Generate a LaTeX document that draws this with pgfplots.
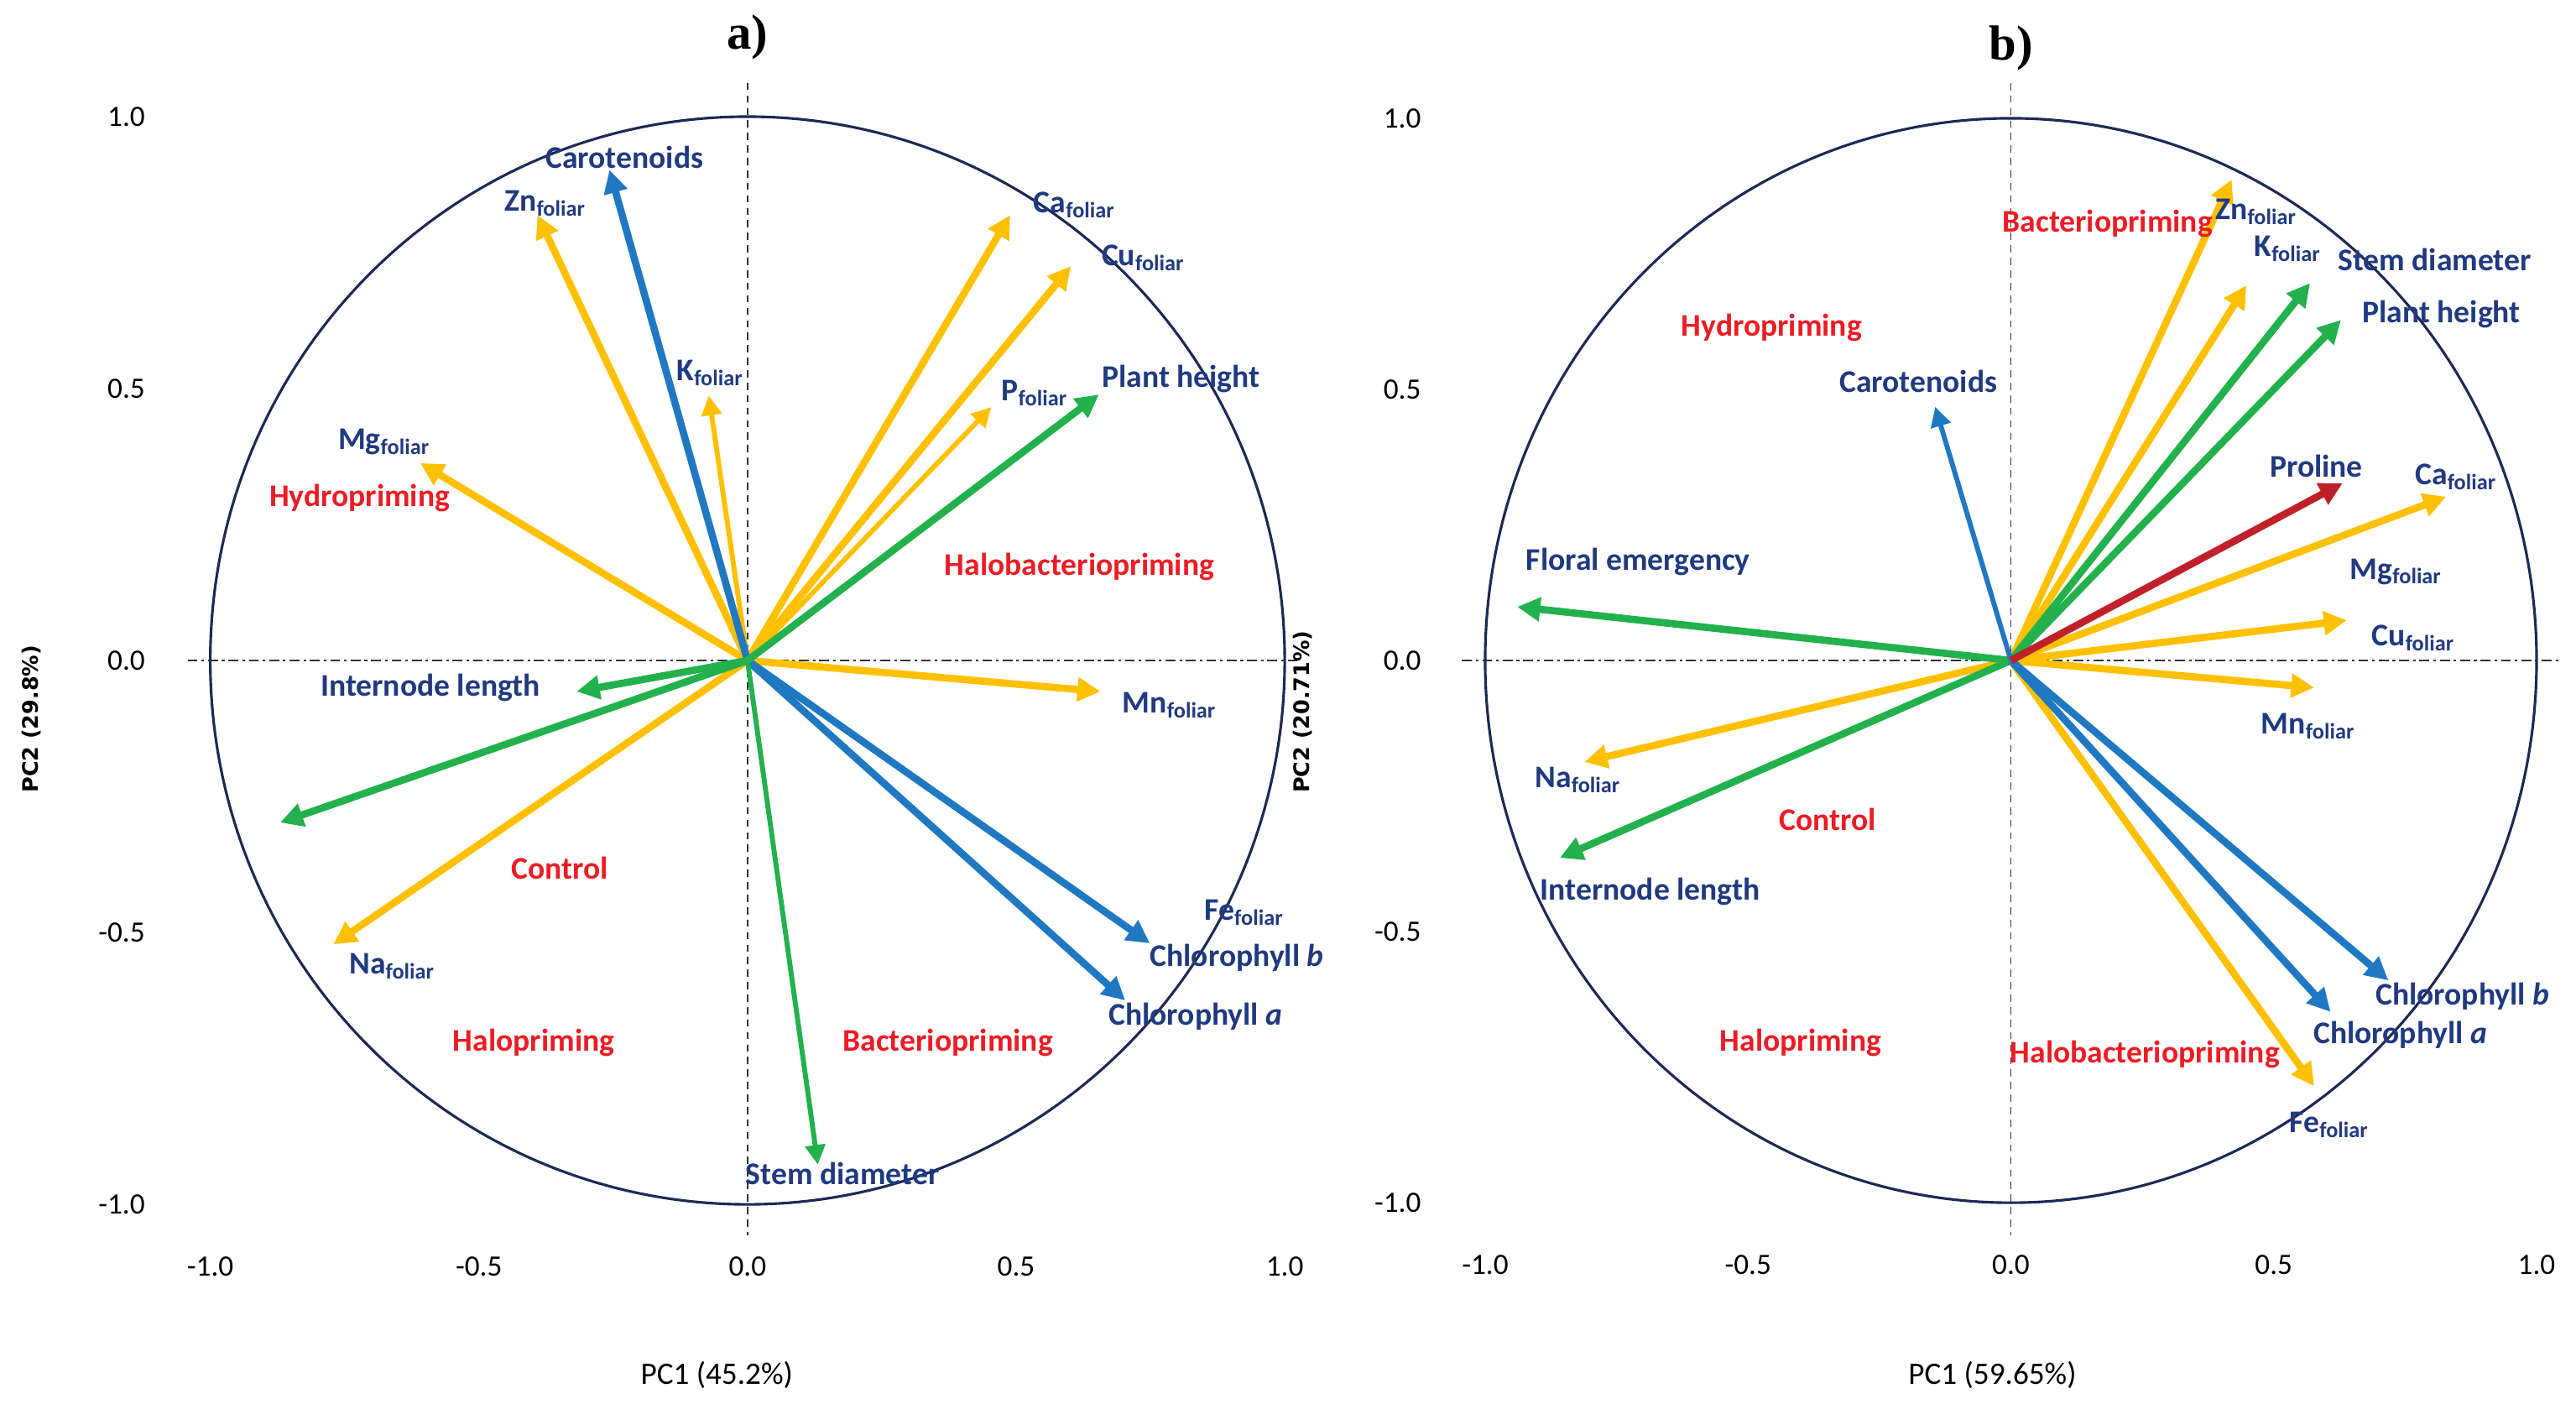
\documentclass[border=0pt]{standalone}
\usepackage{pgfplots}
\pgfplotsset{compat=1.18}
\usepackage{fontspec}
\setmainfont{Carlito}
\newfontfamily\dejavu{DejaVu Sans}
\newfontfamily\serifb{Liberation Serif}
\usetikzlibrary{arrows.meta}
\definecolor{cyel}{HTML}{FFC000}
\definecolor{cblu}{HTML}{1F78C1}
\definecolor{cgrn}{HTML}{22B14C}
\definecolor{cred}{HTML}{C0202A}
\definecolor{ctext}{HTML}{203A80}
\definecolor{ctrt}{HTML}{ED1C24}
\definecolor{cnavy}{HTML}{1C2A55}
\newcommand{\fol}[1]{#1\textsubscript{foliar}}
\pgfplotsset{
  pca/.style={anchor=origin, xmin=-1.1, xmax=1.1, ymin=-1.1, ymax=1.1,
    clip=false, axis line style={draw=none}, major tick length=0pt,
    xtick={-1,-0.5,0,0.5,1}, ytick={-1,-0.5,0,0.5,1},
    xticklabels={-1.0,-0.5,0.0,0.5,1.0}, yticklabels={-1.0,-0.5,0.0,0.5,1.0},
    tick label style={font=\fontsize{9}{10}\selectfont, text=black},
    xticklabel style={yshift=4pt},
    xlabel style={anchor=center, font=\fontsize{9.5}{11}\selectfont},
    ylabel style={anchor=center, rotate=0, font=\dejavu\bfseries\fontsize{6.5}{8}\selectfont},
    every axis title shift=0pt,
    title style={anchor=center, font=\serifb\bfseries\fontsize{15}{17}\selectfont},
  },
  arr/.style={line width=2.2pt, -{Triangle[length=7pt,width=7pt]}, forget plot},
  arrt/.style={line width=1.5pt, -{Triangle[length=6pt,width=6pt]}, forget plot},
  axh/.style={black!80, line width=0.5pt, dash pattern=on 3pt off 1.2pt on 0.8pt off 1.2pt, forget plot},
  axv/.style={black!80, line width=0.5pt, dash pattern=on 2.2pt off 1.6pt, forget plot},
}
\tikzset{
  lab/.style={text=ctext, font=\bfseries\fontsize{9.6}{11}\selectfont, inner sep=0pt, anchor=center},
  trt/.style={text=ctrt, font=\bfseries\fontsize{9.6}{11}\selectfont, inner sep=0pt, anchor=center},
}
\begin{document}
\begin{tikzpicture}
\path[use as bounding box] (0,0) rectangle (784pt,427pt);
% ---------------- panel a ----------------
\begin{axis}[pca, at={(227.5pt,226pt)}, x=163.5pt, y=165.5pt,
  title={a)}, title style={at={(axis description cs:0.5,1.021)}},
  xlabel={PC1 (45.2\%)}, xlabel style={at={(axis description cs:0.474,-0.097)}},
  ylabel={PC2 (29.8\%)}, ylabel style={at={(axis description cs:-0.106,0.451)}}]
\addplot[axh] coordinates {(-1.042,0) (1.024,0)};
\addplot[axv] coordinates {(0,1.062) (0,-1.057)};
\draw[cnavy, line width=0.8pt] (axis cs:0,0) ellipse [x radius=1, y radius=1];
% yellow
\addplot[arr, cyel] coordinates {(0,0) (-0.391,0.819)};
\addplot[arrt, cyel] coordinates {(0,0) (-0.072,0.487)};
\addplot[arr, cyel] coordinates {(0,0) (-0.609,0.363)};
\addplot[arr, cyel] coordinates {(0,0) (0.489,0.819)};
\addplot[arr, cyel] coordinates {(0,0) (0.602,0.725)};
\addplot[arrt, cyel] coordinates {(0,0) (0.454,0.466)};
\addplot[arr, cyel] coordinates {(0,0) (0.657,-0.057)};
\addplot[arr, cyel] coordinates {(0,0) (-0.771,-0.522)};
% blue
\addplot[arr, cblu] coordinates {(0,0) (-0.257,0.902)};
\addplot[arr, cblu] coordinates {(0,0) (0.749,-0.520)};
\addplot[arr, cblu] coordinates {(0,0) (0.703,-0.625)};
% green
\addplot[arr, cgrn] coordinates {(0,0) (0.654,0.489)};
\addplot[arr, cgrn] coordinates {(0,0) (-0.318,-0.057)};
\addplot[arr, cgrn] coordinates {(0,0) (-0.870,-0.298)};
\addplot[arrt, cgrn] coordinates {(0,0) (0.131,-0.927)};
% variable labels
\node[lab] at (axis cs:-0.229,0.925) {Carotenoids};
\node[lab] at (axis cs:-0.376,0.841) {\fol{Zn}};
\node[lab] at (axis cs:0.609,0.838) {\fol{Ca}};
\node[lab] at (axis cs:0.737,0.740) {\fol{Cu}};
\node[lab] at (axis cs:-0.069,0.529) {\fol{K}};
\node[lab] at (axis cs:0.535,0.492) {\fol{P}};
\node[lab] at (axis cs:0.807,0.517) {Plant height};
\node[lab] at (axis cs:-0.676,0.402) {\fol{Mg}};
\node[lab] at (axis cs:-0.590,-0.050) {Internode length};
\node[lab] at (axis cs:0.786,-0.082) {\fol{Mn}};
\node[lab] at (axis cs:-0.661,-0.562) {\fol{Na}};
\node[lab] at (axis cs:0.925,-0.464) {\fol{Fe}};
\node[lab] at (axis cs:0.911,-0.547) {Chlorophyll \textit{b}};
\node[lab] at (axis cs:0.834,-0.654) {Chlorophyll \textit{a}};
\node[lab] at (axis cs:0.177,-0.943) {Stem diameter};
% treatments
\node[trt] at (axis cs:-0.722,0.299) {Hydropriming};
\node[trt] at (axis cs:0.618,0.172) {Halobacteriopriming};
\node[trt] at (axis cs:-0.349,-0.381) {Control};
\node[trt] at (axis cs:-0.398,-0.703) {Halopriming};
\node[trt] at (axis cs:0.373,-0.703) {Bacteriopriming};
\end{axis}
% ---------------- panel b ----------------
\begin{axis}[pca, at={(612pt,226pt)}, x=160pt, y=165pt,
  title={b)}, title style={at={(axis description cs:0.5,1.013)}},
  xlabel={PC1 (59.65\%)}, xlabel style={at={(axis description cs:0.484,-0.099)}},
  ylabel={PC2 (20.71\%)}, ylabel style={at={(axis description cs:-0.112,0.457)}}]
\addplot[axh] coordinates {(-1.044,0) (1.044,0)};
\addplot[axv] coordinates {(0,1.065) (0,-1.06)};
\draw[cnavy, line width=0.8pt] (axis cs:0,0) ellipse [x radius=1, y radius=1];
% yellow
\addplot[arr, cyel] coordinates {(0,0) (0.420,0.887)};
\addplot[arr, cyel] coordinates {(0,0) (0.448,0.692)};
\addplot[arr, cyel] coordinates {(0,0) (0.828,0.302)};
\addplot[arr, cyel] coordinates {(0,0) (0.639,0.074)};
\addplot[arr, cyel] coordinates {(0,0) (0.577,-0.050)};
\addplot[arr, cyel] coordinates {(0,0) (-0.811,-0.187)};
\addplot[arr, cyel] coordinates {(0,0) (0.577,-0.785)};
% green
\addplot[arr, cgrn] coordinates {(0,0) (0.569,0.696)};
\addplot[arr, cgrn] coordinates {(0,0) (0.628,0.628)};
\addplot[arr, cgrn] coordinates {(0,0) (-0.939,0.099)};
\addplot[arr, cgrn] coordinates {(0,0) (-0.858,-0.364)};
% blue
\addplot[arrt, cblu] coordinates {(0,0) (-0.144,0.468)};
\addplot[arr, cblu] coordinates {(0,0) (0.718,-0.590)};
\addplot[arr, cblu] coordinates {(0,0) (0.608,-0.648)};
% red
\addplot[arr, cred] coordinates {(0,0) (0.631,0.327)};
% variable labels
\node[lab] at (axis cs:0.467,0.828) {\fol{Zn}};
\node[lab] at (axis cs:0.527,0.760) {\fol{K}};
\node[lab] at (axis cs:0.806,0.739) {Stem diameter};
\node[lab] at (axis cs:0.819,0.638) {Plant height};
\node[lab] at (axis cs:-0.176,0.515) {Carotenoids};
\node[lab] at (axis cs:0.581,0.358) {Proline};
\node[lab] at (axis cs:0.847,0.338) {\fol{Ca}};
\node[lab] at (axis cs:-0.709,0.182) {Floral emergency};
\node[lab] at (axis cs:0.733,0.164) {\fol{Mg}};
\node[lab] at (axis cs:0.766,0.041) {\fol{Cu}};
\node[lab] at (axis cs:0.566,-0.121) {\fol{Mn}};
\node[lab] at (axis cs:-0.823,-0.220) {\fol{Na}};
\node[lab] at (axis cs:-0.686,-0.426) {Internode length};
\node[lab] at (axis cs:0.859,-0.619) {Chlorophyll \textit{b}};
\node[lab] at (axis cs:0.741,-0.690) {Chlorophyll \textit{a}};
\node[lab] at (axis cs:0.606,-0.856) {\fol{Fe}};
% treatments
\node[trt] at (axis cs:0.184,0.806) {Bacteriopriming};
\node[trt] at (axis cs:-0.455,0.613) {Hydropriming};
\node[trt] at (axis cs:-0.348,-0.293) {Control};
\node[trt] at (axis cs:-0.400,-0.705) {Halopriming};
\node[trt] at (axis cs:0.255,-0.727) {Halobacteriopriming};
\end{axis}
\end{tikzpicture}
\end{document}
